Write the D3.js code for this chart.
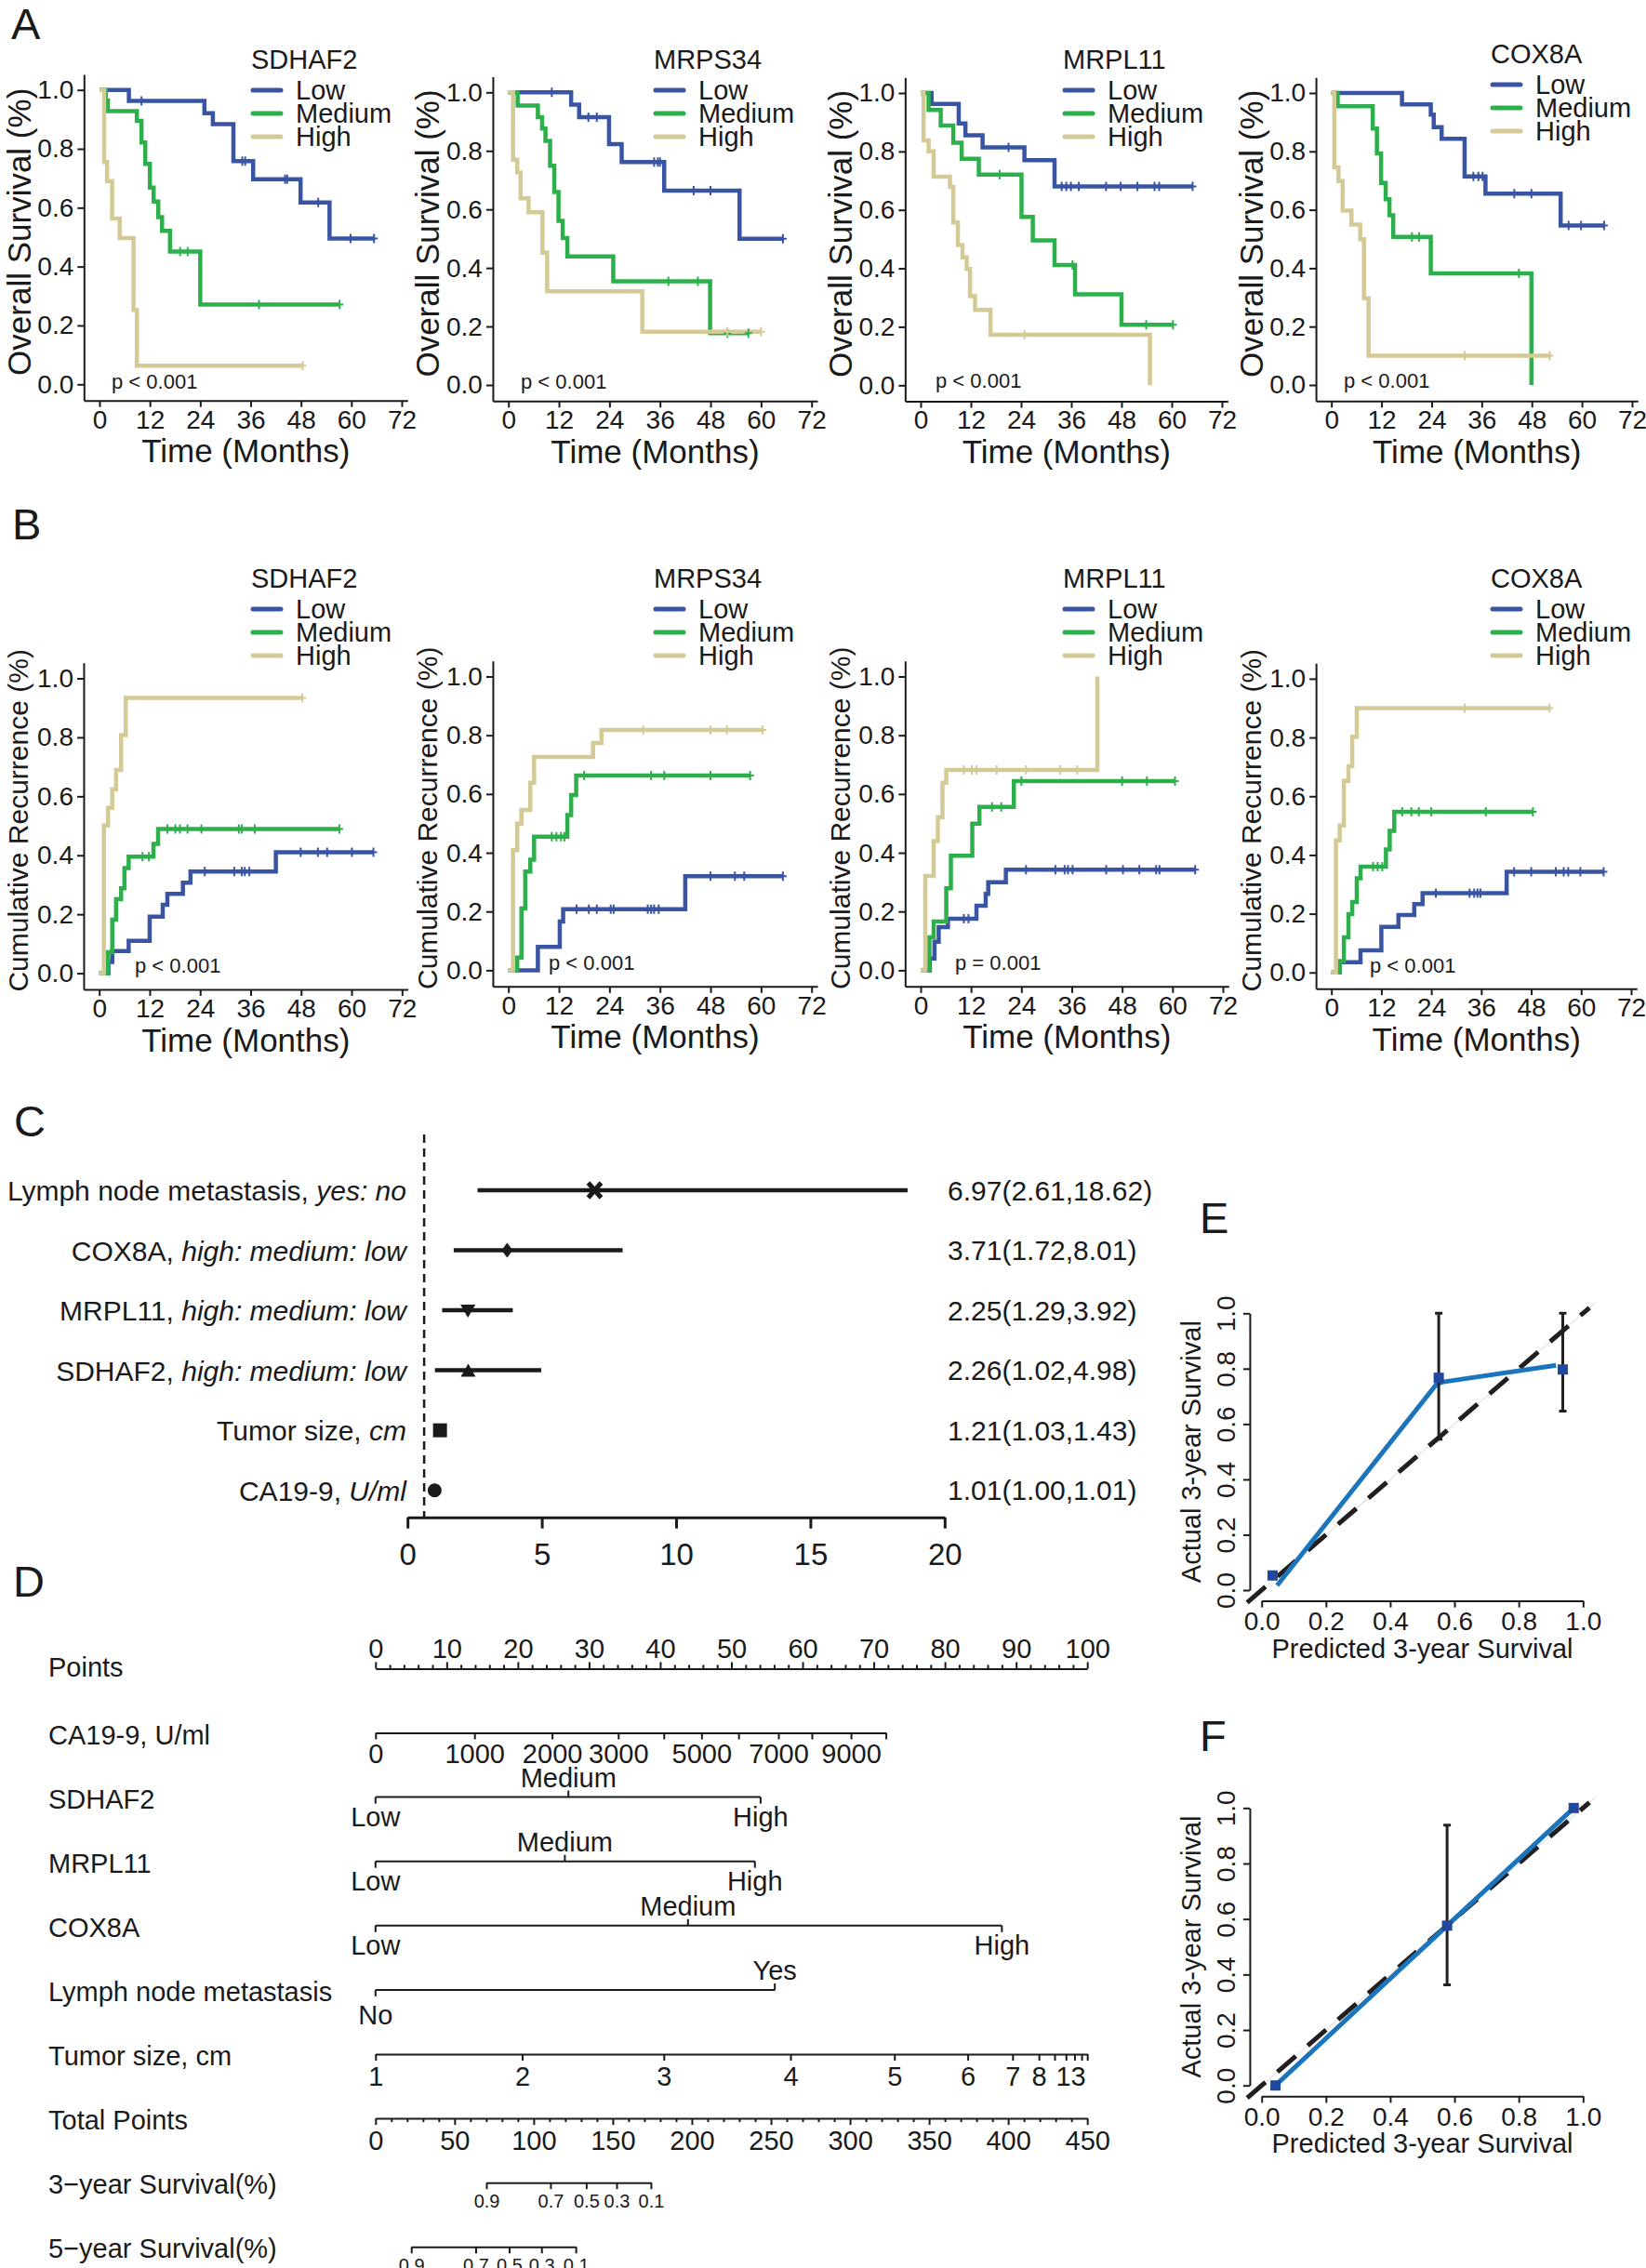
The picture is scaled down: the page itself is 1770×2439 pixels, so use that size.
<!DOCTYPE html>
<html><head><meta charset="utf-8">
<script src="https://cdn.jsdelivr.net/npm/d3@7"></script>
<style>
body{margin:0;background:#fff}
svg{display:block;background:#fff}
</style>
</head><body>
<svg id="fig" width="1770" height="2439"></svg>
<script>
// ================= DATA =================
const months = [0, 12, 24, 36, 48, 60, 72];
const fracTicks = [0, 0.2, 0.4, 0.6, 0.8, 1.0];
const groups = ["Low", "Medium", "High"];
const genes = ["SDHAF2", "MRPS34", "MRPL11", "COX8A"];
const osPvals = ["p < 0.001", "p < 0.001", "p < 0.001", "p < 0.001"];
const rfsPvals = ["p < 0.001", "p < 0.001", "p = 0.001", "p < 0.001"];

// Overall survival steps [month, survival]
const osSdhaf2Low = [[0,1],[7,0.963],[25,0.921],[27,0.884],[31.9,0.758],[36.6,0.697],[47.9,0.618],[54.8,0.495],[65.4,0.495]];
const osSdhaf2Med = [[0,1],[1.5,0.964],[2,0.928],[8.9,0.895],[10,0.821],[10.9,0.749],[12,0.668],[12.9,0.621],[14,0.568],[14.9,0.521],[16.8,0.451],[24,0.271],[57.2,0.271]];
const osSdhaf2High = [[0,1],[1.1,0.755],[1.8,0.69],[3,0.563],[4.8,0.497],[8.1,0.253],[8.9,0.063],[48.4,0.063]];
const osSdhaf2Cens = [[10,34,34.7,44.2,44.7,52.1,59.8,65.4],[19.2,21,38,57.2],[48.4]];

const osMrps34Low = [[0,1],[14.9,0.958],[16.8,0.915],[23.9,0.823],[26.9,0.762],[37,0.664],[54.9,0.5],[65.2,0.5]];
const osMrps34Med = [[0,1],[2.2,0.955],[7,0.915],[8,0.876],[8.8,0.834],[9.9,0.749],[10.9,0.659],[11.9,0.561],[12.9,0.502],[14,0.439],[24.9,0.354],[47.9,0.177],[57,0.177]];
const osMrps34High = [[0,1],[1.1,0.77],[2.1,0.726],[2.9,0.638],[4.8,0.59],[8.1,0.452],[9.2,0.32],[31.8,0.182],[60,0.182]];
const osMrps34Cens = [[10.3,19,21,34.6,35.5,36,44,48,65.2],[38,45,52,57],[52,60]];

const osMrpl11Low = [[0,1],[2.6,0.963],[9.1,0.896],[10.7,0.855],[14.8,0.814],[24.8,0.77],[32,0.68],[65,0.68]];
const osMrpl11Med = [[0,1],[1.9,0.942],[4.8,0.889],[7.8,0.83],[9.8,0.775],[13.9,0.721],[24.1,0.576],[26.8,0.496],[32,0.411],[36.9,0.311],[48,0.207],[60.3,0.207]];
const osMrpl11High = [[0,1],[0.7,0.838],[1.9,0.8],[3.1,0.714],[7,0.679],[7.8,0.557],[8.9,0.48],[10,0.438],[11,0.398],[11.8,0.305],[13,0.258],[16.7,0.173],[54.8,0]];
const osMrpl11Cens = [[21,33.7,34.8,35.9,37.8,44.3,47.8,51.8,55.9,57,65],[18.9,36.3,53.9,60.3],[24.8]];

const osCox8aLow = [[0,1],[16.9,0.961],[23.8,0.926],[24.5,0.883],[26.4,0.843],[31.9,0.714],[36.9,0.655],[54.9,0.546],[65.3,0.546]];
const osCox8aMed = [[0,1],[1.5,0.955],[9.9,0.878],[10.9,0.793],[11.9,0.692],[13,0.636],[13.9,0.581],[14.8,0.507],[23.8,0.382],[47.9,0]];
const osCox8aHigh = [[0,1],[0.7,0.745],[1.7,0.698],[2.7,0.597],[4.8,0.549],[6.9,0.499],[7.8,0.297],[8.9,0.1],[52.3,0.1]];
const osCox8aCens = [[34,35.2,36.2,43.8,47.9,56.8,59.8,65.3],[19.3,21,44.9],[31.9,52.3]];

// Cumulative recurrence steps [month, recurrence]
const rfsSdhaf2Low = [[0,0],[2.2,0.038],[3.1,0.075],[7,0.11],[12,0.192],[15.1,0.232],[16.2,0.269],[19.9,0.307],[21.7,0.345],[42,0.41],[65.2,0.41]];
const rfsSdhaf2Med = [[0,0],[2.1,0.071],[3.1,0.182],[4,0.251],[5.2,0.288],[6,0.357],[7,0.395],[12.9,0.439],[14,0.489],[57.1,0.489]];
const rfsSdhaf2High = [[0,0],[1.1,0.501],[2.1,0.561],[3.1,0.624],[4,0.689],[5.2,0.808],[6.3,0.934],[48.3,0.934]];
const rfsSdhaf2Cens = [[25.1,32.1,33.9,34.6,35.7,47.9,52,54.2,60.1,65.2],[10.3,11.8,16.2,18.1,19.2,21,24.3,33.2,33.9,37,57.1],[48.3]];

const rfsMrps34Low = [[0,0],[7,0.08],[12.2,0.166],[13,0.208],[42,0.32],[65.2,0.32]];
const rfsMrps34Med = [[0,0],[2.1,0.043],[3.1,0.21],[4,0.336],[5.2,0.376],[6.1,0.455],[14,0.528],[14.9,0.596],[16.1,0.663],[57.4,0.663]];
const rfsMrps34High = [[0,0],[1.1,0.409],[2.1,0.499],[3.1,0.546],[5.2,0.638],[6.1,0.726],[20.1,0.774],[22.1,0.818],[60.4,0.818]];
const rfsMrps34Cens = [[16.2,19.1,21,24.3,25,33.1,33.9,34.6,35.7,48,53.8,56,65.2],[10.3,11.4,12.5,13.3,18,33.9,37,48,57.4],[32,48,51.9,60.4]];

const rfsMrpl11Low = [[0,0],[2.2,0.04],[3.3,0.097],[4.3,0.147],[6.5,0.175],[13.3,0.22],[15.5,0.26],[16.1,0.3],[20.3,0.342],[65.4,0.342]];
const rfsMrpl11Med = [[0,0],[2.1,0.112],[3.1,0.166],[6.1,0.279],[7.2,0.39],[12.3,0.499],[14,0.556],[22.2,0.644],[60.6,0.644]];
const rfsMrpl11High = [[0,0],[1.1,0.321],[3.1,0.44],[4.1,0.521],[5.2,0.638],[6.1,0.682],[42.1,1.0]];
const rfsMrpl11Cens = [[10.3,11.4,25.1,32.1,34.3,35.1,36.2,44.2,48.2,52.1,56.1,56.9,65.4],[17,19.2,24,48,53.9,60.6],[10.3,12.2,13.3,18.1,25.1,33.2,37.3]];

const rfsCox8aLow = [[0,0],[2,0.035],[7,0.075],[12,0.155],[16.1,0.196],[19.9,0.233],[21.9,0.27],[42.1,0.343],[65.4,0.343]];
const rfsCox8aMed = [[0,0],[2,0.039],[3,0.12],[4.1,0.199],[5,0.24],[6.1,0.321],[7,0.36],[13.1,0.419],[14,0.482],[15.1,0.547],[48.4,0.547]];
const rfsCox8aHigh = [[0,0],[1.1,0.45],[2,0.5],[3,0.652],[4.1,0.702],[5,0.803],[6.1,0.9],[52.4,0.9]];
const rfsCox8aCens = [[25.1,33.2,34.3,35.1,35.8,43.9,48,53.9,55.8,56.9,59.8,65.4],[10,11.1,12.2,17,19.2,21,24,37.1,48.4],[32,52.4]];

// Forest plot (C)
const fpVars = ["Lymph node metastasis, ", "COX8A, ", "MRPL11, ", "SDHAF2, ", "Tumor size, ", "CA19-9, "];
const fpLevels = ["yes: no", "high: medium: low", "high: medium: low", "high: medium: low", "cm", "U/ml"];
const fpHR = [6.97, 3.71, 2.25, 2.26, 1.21, 1.01];
const fpLo = [2.61, 1.72, 1.29, 1.02, 1.03, 1.00];
const fpHi = [18.62, 8.01, 3.92, 4.98, 1.43, 1.01];
const fpShapes = ["x", "diamond", "triDown", "triUp", "square", "circle"];
const fpTicks = [0, 5, 10, 15, 20];
const fpRef = 0.62;

// Nomogram (D)
const nomoRows = ["Points", "CA19-9, U/ml", "SDHAF2", "MRPL11", "COX8A", "Lymph node metastasis", "Tumor size, cm", "Total Points", "3\u2212year Survival(%)", "5\u2212year Survival(%)"];
const pointTicks = [0,10,20,30,40,50,60,70,80,90,100];
const caValues = [0,1000,2000,3000,4000,5000,6000,7000,8000,9000,10000];
const caPoints = [0,13.9,24.8,34.1,40.5,45.8,51,56.6,61.3,66.8,71.7];
const caLabeled = [0,1000,2000,3000,5000,7000,9000];
const levels3 = ["Low", "Medium", "High"];
const sdhaf2Points = [0, 27.1, 54.1];
const mrpl11Points = [0, 26.6, 53.3];
const cox8aPoints = [0, 43.9, 88.0];
const lymphLevels = ["No", "Yes"];
const lymphPoints = [0, 56.1];
const tumorValues = [1,2,3,4,5,6,7,8,9,10,11,12,13];
const tumorPoints = [0,20.6,40.5,58.3,72.9,83.2,89.5,93.2,95.4,97.0,98.2,99.2,100];
const tumorLabeled = [1,2,3,4,5,6,7,8,13];
const totalTicks = [0,50,100,150,200,250,300,350,400,450];
const survLabels = [0.9, 0.7, 0.5, 0.3, 0.1];
const surv3Total = [70.1, 110.6, 133.2, 152.4, 174.1];
const surv5Total = [22.6, 63.3, 84.5, 104.9, 126.6];

// Calibration (E, F)
const calTicks = [0, 0.2, 0.4, 0.6, 0.8, 1.0];
const calELine = [[0.048,0.017],[0.545,0.745],[0.565,0.752],[0.916,0.812]];
const calEPoints = [[0.034,0.053],[0.551,0.767],[0.937,0.797]];
const calEErr = [[0.551,0.545,1.0],[0.937,0.647,1.0]];
const calFLine = [[0.043,0.0],[0.577,0.576],[0.971,1.0]];
const calFPoints = [[0.043,0.0],[0.577,0.576],[0.971,1.0]];
const calFErr = [[0.577,0.363,0.938]];

// ================= STYLE / LAYOUT =================
const FONT = "'Liberation Sans', Arial, Helvetica, sans-serif";
const INK = "#1a1a1a";
const groupColors = ["#3a54a4", "#2db04b", "#d3ca96"];

const osCurves = [[osSdhaf2Low, osSdhaf2Med, osSdhaf2High],[osMrps34Low, osMrps34Med, osMrps34High],[osMrpl11Low, osMrpl11Med, osMrpl11High],[osCox8aLow, osCox8aMed, osCox8aHigh]];
const osCens = [osSdhaf2Cens, osMrps34Cens, osMrpl11Cens, osCox8aCens];
const rfsCurves = [[rfsSdhaf2Low, rfsSdhaf2Med, rfsSdhaf2High],[rfsMrps34Low, rfsMrps34Med, rfsMrps34High],[rfsMrpl11Low, rfsMrpl11Med, rfsMrpl11High],[rfsCox8aLow, rfsCox8aMed, rfsCox8aHigh]];
const rfsCens = [rfsSdhaf2Cens, rfsMrps34Cens, rfsMrpl11Cens, rfsCox8aCens];

const osLayout = [
  {x0:107, x72:432, y1:96.7, y0:413.3, lx:270, ly:74, px:120, py:418},
  {x0:546.7, x72:872.7, y1:99.3, y0:414, lx:703, ly:74, px:560, py:418},
  {x0:990, x72:1314, y1:100, y0:414.3, lx:1143, ly:74, px:1006, py:417},
  {x0:1431.7, x72:1755, y1:100, y0:414, lx:1603, ly:68, px:1445, py:417}];
const rfsLayout = [
  {x0:106.7, x72:432.3, y1:729.5, y0:1046.6, lx:270, ly:632, px:145, py:1046},
  {x0:546.7, x72:872.7, y1:727.5, y0:1043.4, lx:703, ly:632, px:590, py:1043},
  {x0:990, x72:1315, y1:727.5, y0:1043.4, lx:1143, ly:632, px:1027, py:1043},
  {x0:1431.7, x72:1754, y1:729.9, y0:1045.8, lx:1603, ly:632, px:1473, py:1046}];

const svg = d3.select("#fig");
svg.append("rect").attr("width",1770).attr("height",2439).attr("fill","#fff");

function txt(g, x, y, s, size, anchor) {
  return g.append("text").attr("x", x).attr("y", y).text(s)
    .attr("font-family", FONT).attr("font-size", size).attr("fill", INK)
    .attr("text-anchor", anchor || "start");
}
function styleAxis(a, size, sw) {
  a.attr("font-family", FONT).attr("font-size", size);
  a.selectAll("path,line").attr("stroke", INK).attr("stroke-width", sw);
  a.selectAll("text").attr("fill", INK);
}
function valAt(c, t) { let v = c[0][1]; for (const p of c) if (p[0] <= t) v = p[1]; return v; }

// panel letters
[["A",12,42],["B",13,580],["C",15,1222],["D",14,1717],["E",1290,1326],["F",1290,1883]].forEach(d =>
  txt(svg, d[1], d[2], d[0], 47));

function kmPlot(L, curves, cens, gene, pval, yTitle, yTitleSize) {
  const g = svg.append("g");
  const xs = d3.scaleLinear().domain([0,72]).range([L.x0, L.x72]);
  const ys = d3.scaleLinear().domain([0,1]).range([L.y0, L.y1]);
  const xAx = d3.scaleLinear().domain([-3.7, 73.4]).range([xs(-3.7), xs(73.4)]);
  const yAx = d3.scaleLinear().domain([-0.055, 1.053]).range([ys(-0.055), ys(1.053)]);
  const xg = g.append("g").attr("transform", `translate(0,${ys(-0.055)})`)
    .call(d3.axisBottom(xAx).tickValues(months).tickSize(7).tickPadding(3).tickSizeOuter(0));
  styleAxis(xg, 28, 2);
  const yg = g.append("g").attr("transform", `translate(${xs(-3.7)},0)`)
    .call(d3.axisLeft(yAx).tickValues(fracTicks).tickFormat(d3.format(".1f")).tickSize(7).tickPadding(4).tickSizeOuter(0));
  styleAxis(yg, 28, 2);

  const line = d3.line().x(d => xs(d[0])).y(d => ys(d[1])).curve(d3.curveStepAfter);
  curves.forEach((c, i) => {
    g.append("path").attr("d", line(c)).attr("fill", "none")
      .attr("stroke", groupColors[i]).attr("stroke-width", 4.5);
  });
  curves.forEach((c, i) => {
    cens[i].forEach(t => {
      const cx = xs(t), cy = ys(valAt(c, t));
      g.append("path").attr("d", `M${cx-4},${cy}h8M${cx},${cy-5}v10`)
        .attr("stroke", groupColors[i]).attr("stroke-width", 2).attr("fill", "none");
    });
  });
  // legend
  txt(g, L.lx, L.ly, gene, 29);
  groups.forEach((gr, i) => {
    const yy = L.ly + 23 + i * 25;
    g.append("line").attr("x1", L.lx + 2).attr("x2", L.lx + 32).attr("y1", yy).attr("y2", yy)
      .attr("stroke", groupColors[i]).attr("stroke-width", 5).attr("stroke-linecap", "round");
    txt(g, L.lx + 48, yy + 10, gr, 29);
  });
  txt(g, L.px, L.py, pval, 22);
  txt(g, (xs(-3.7) + xs(73.4)) / 2, L.y0 + 84, "Time (Months)", 35, "middle");
  const cy = (ys(-0.055) + ys(1.053)) / 2 - 6;
  txt(g, 0, 0, yTitle, yTitleSize, "middle").attr("dominant-baseline", "central")
    .attr("transform", `translate(${xs(-3.7) - 70},${cy}) rotate(-90)`);
}

genes.forEach((gn, i) => kmPlot(osLayout[i], osCurves[i], osCens[i], gn, osPvals[i], "Overall Survival (%)", 35));
genes.forEach((gn, i) => kmPlot(rfsLayout[i], rfsCurves[i], rfsCens[i], gn, rfsPvals[i], "Cumulative Recurrence (%)", 30));

// ================= C: forest =================
(function () {
  const g = svg.append("g");
  const x = d3.scaleLinear().domain([0, 20]).range([438.2, 1015.8]);
  const y = d3.scalePoint().domain(d3.range(fpHR.length)).range([1280, 1602.7]);
  g.append("line").attr("x1", x(fpRef)).attr("x2", x(fpRef)).attr("y1", 1220).attr("y2", 1632)
    .attr("stroke", INK).attr("stroke-width", 2.5).attr("stroke-dasharray", "9,6");
  const ax = g.append("g").attr("transform", "translate(0,1631.7)")
    .call(d3.axisBottom(x).tickValues(fpTicks).tickSize(12).tickPadding(16).tickSizeOuter(0));
  styleAxis(ax, 33, 3);
  fpHR.forEach((hr, i) => {
    const yy = y(i);
    g.append("line").attr("x1", x(fpLo[i])).attr("x2", x(fpHi[i])).attr("y1", yy).attr("y2", yy)
      .attr("stroke", INK).attr("stroke-width", 4.5);
    const cx = x(hr);
    const s = fpShapes[i];
    if (s === "x") {
      g.append("path").attr("d", `M${cx-7},${yy-8}L${cx+7},${yy+8}M${cx+7},${yy-8}L${cx-7},${yy+8}`)
        .attr("stroke", INK).attr("stroke-width", 5);
    } else if (s === "diamond") {
      g.append("path").attr("d", `M${cx},${yy-8}L${cx+6},${yy}L${cx},${yy+8}L${cx-6},${yy}Z`).attr("fill", INK);
    } else if (s === "triDown") {
      g.append("path").attr("d", `M${cx-8},${yy-6}L${cx+8},${yy-6}L${cx},${yy+8}Z`).attr("fill", INK);
    } else if (s === "triUp") {
      g.append("path").attr("d", `M${cx-8},${yy+7}L${cx+8},${yy+7}L${cx},${yy-7}Z`).attr("fill", INK);
    } else if (s === "square") {
      g.append("rect").attr("x", cx - 7.5).attr("y", yy - 7.5).attr("width", 15).attr("height", 15).attr("fill", INK);
    } else {
      g.append("circle").attr("cx", cx).attr("cy", yy).attr("r", 7.5).attr("fill", INK);
    }
    const t = txt(g, 437, yy, "", 30, "end").attr("dominant-baseline", "central");
    t.append("tspan").text(fpVars[i]);
    t.append("tspan").attr("font-style", "italic").text(fpLevels[i]);
    txt(g, 1019, yy, `${hr.toFixed(2)}(${fpLo[i].toFixed(2)},${fpHi[i].toFixed(2)})`, 30).attr("dominant-baseline", "central");
  });
})();

// ================= D: nomogram =================
(function () {
  const g = svg.append("g");
  const pts = d3.scaleLinear().domain([0, 100]).range([403.8, 1169.2]);
  const tot = d3.scaleLinear().domain([0, 450]).range([403.8, 1169.2]);
  const rowY = d3.scalePoint().domain(nomoRows).range([1794.4, 2416.3]);
  const F = 29;
  nomoRows.forEach((r, i) => txt(g, 52, rowY(r) + (i === 0 ? 9 : 12), r, F));

  // Points
  let a = g.append("g").attr("transform", `translate(0,${rowY(nomoRows[0])})`)
    .call(d3.axisTop(pts).tickValues(pointTicks).tickSize(7).tickPadding(4).tickSizeOuter(0));
  styleAxis(a, F, 2);
  a = g.append("g").attr("transform", `translate(0,${rowY(nomoRows[0])})`)
    .call(d3.axisTop(pts).tickValues(d3.range(0, 101, 2).filter(v => v % 10)).tickSize(4).tickFormat("").tickSizeOuter(0));
  styleAxis(a, F, 2); a.select(".domain").remove();

  // CA19-9
  const caScale = d3.scaleLinear().domain(caValues).range(caPoints.map(p => pts(p)));
  a = g.append("g").attr("transform", `translate(0,${rowY(nomoRows[1])})`)
    .call(d3.axisBottom(caScale).tickValues(caValues).tickSize(7).tickPadding(5).tickSizeOuter(0)
      .tickFormat(v => caLabeled.includes(v) ? String(v) : ""));
  styleAxis(a, F, 2);

  // categorical rows
  function catRow(row, levels, ptsArr, aboveIdx) {
    const yy = rowY(row);
    g.append("line").attr("x1", pts(ptsArr[0])).attr("x2", pts(d3.max(ptsArr))).attr("y1", yy).attr("y2", yy)
      .attr("stroke", INK).attr("stroke-width", 2);
    levels.forEach((lv, i) => {
      const xx = pts(ptsArr[i]);
      const up = aboveIdx.includes(i);
      g.append("line").attr("x1", xx).attr("x2", xx).attr("y1", yy).attr("y2", up ? yy - 7 : yy + 7)
        .attr("stroke", INK).attr("stroke-width", 2);
      txt(g, xx, up ? yy - 11 : yy + (levels.length === 2 ? 37 : 31), lv, F, "middle");
    });
  }
  catRow(nomoRows[2], levels3, sdhaf2Points, [1]);
  catRow(nomoRows[3], levels3, mrpl11Points, [1]);
  catRow(nomoRows[4], levels3, cox8aPoints, [1]);
  catRow(nomoRows[5], lymphLevels, lymphPoints, [1]);

  // Tumor size
  const tumScale = d3.scaleLinear().domain(tumorValues).range(tumorPoints.map(p => pts(p)));
  a = g.append("g").attr("transform", `translate(0,${rowY(nomoRows[6])})`)
    .call(d3.axisBottom(tumScale).tickValues(tumorValues).tickSize(7).tickPadding(6).tickSizeOuter(0)
      .tickFormat(v => tumorLabeled.includes(v) ? String(v) : ""));
  styleAxis(a, F, 2);
  a.selectAll(".tick text").filter(v => v === 13).attr("text-anchor", "end").attr("dx", -2);

  // Total points
  a = g.append("g").attr("transform", `translate(0,${rowY(nomoRows[7])})`)
    .call(d3.axisBottom(tot).tickValues(totalTicks).tickSize(7).tickPadding(6).tickSizeOuter(0));
  styleAxis(a, F, 2);
  a = g.append("g").attr("transform", `translate(0,${rowY(nomoRows[7])})`)
    .call(d3.axisBottom(tot).tickValues(d3.range(0, 451, 10).filter(v => v % 50)).tickSize(4).tickFormat("").tickSizeOuter(0));
  styleAxis(a, F, 2); a.select(".domain").remove();

  // survival rows
  [[nomoRows[8], surv3Total], [nomoRows[9], surv5Total]].forEach(([row, totals]) => {
    const sScale = d3.scaleLinear().domain(survLabels).range(totals.map(t => tot(t)));
    const ax = g.append("g").attr("transform", `translate(0,${rowY(row)})`)
      .call(d3.axisBottom(sScale).tickValues(survLabels).tickSize(7).tickPadding(6).tickSizeOuter(0)
        .tickFormat(d3.format(".1f")));
    styleAxis(ax, 20, 2);
  });
})();

// ================= E, F: calibration =================
function calib(y0px, y1px, lineData, ptsData, errData) {
  const g = svg.append("g");
  const xs = d3.scaleLinear().domain([0, 1]).range([1356.7, 1702.3]);
  const ys = d3.scaleLinear().domain([0, 1]).range([y0px, y1px]);
  g.append("line").attr("x1", xs(-0.04)).attr("y1", ys(-0.04)).attr("x2", xs(1.04)).attr("y2", ys(1.04))
    .attr("stroke", "#d6d6d6").attr("stroke-width", 1);
  const xg = g.append("g").attr("transform", `translate(0,${ys(-0.039)})`)
    .call(d3.axisBottom(xs).tickValues(calTicks).tickFormat(d3.format(".1f")).tickSize(7).tickPadding(5).tickSizeOuter(0));
  styleAxis(xg, 28, 2);
  const yg = g.append("g").attr("transform", `translate(${xs(-0.037)},0)`)
    .call(d3.axisLeft(ys).tickValues(calTicks).tickFormat(d3.format(".1f")).tickSize(7).tickSizeOuter(0));
  styleAxis(yg, 28, 2);
  yg.selectAll(".tick text").attr("x", null).attr("dy", null).attr("text-anchor", "middle")
    .attr("transform", "translate(-16,0) rotate(-90)");
  txt(g, (xs(0) + xs(1)) / 2, ys(-0.039) + 61, "Predicted 3-year Survival", 29, "middle");
  txt(g, 0, 0, "Actual 3-year Survival", 29, "middle").attr("dominant-baseline", "central")
    .attr("transform", `translate(1281,${(ys(0) + ys(1)) / 2}) rotate(-90)`);
  // dashed ideal line
  g.append("line").attr("x1", xs(-0.045)).attr("y1", ys(-0.045)).attr("x2", xs(1.02)).attr("y2", ys(1.02))
    .attr("stroke", "#231f20").attr("stroke-width", 5).attr("stroke-dasharray", "26,17");
  const ln = d3.line().x(d => xs(d[0])).y(d => ys(d[1]));
  g.append("path").attr("d", ln(lineData)).attr("fill", "none").attr("stroke", "#1b75bc").attr("stroke-width", 5);
  errData.forEach(e => {
    const xx = xs(e[0]);
    g.append("path").attr("d", `M${xx},${ys(e[1])}V${ys(e[2])}M${xx-4},${ys(e[1])}h8M${xx-4},${ys(e[2])}h8`)
      .attr("stroke", "#231f20").attr("stroke-width", 3).attr("fill", "none");
  });
  ptsData.forEach(p => {
    g.append("rect").attr("x", xs(p[0]) - 5.5).attr("y", ys(p[1]) - 5.5).attr("width", 11).attr("height", 11)
      .attr("fill", "#1f489e");
  });
}
calib(1710, 1412.3, calELine, calEPoints, calEErr);
calib(2242.7, 1944.3, calFLine, calFPoints, calFErr);
</script>
</body></html>
